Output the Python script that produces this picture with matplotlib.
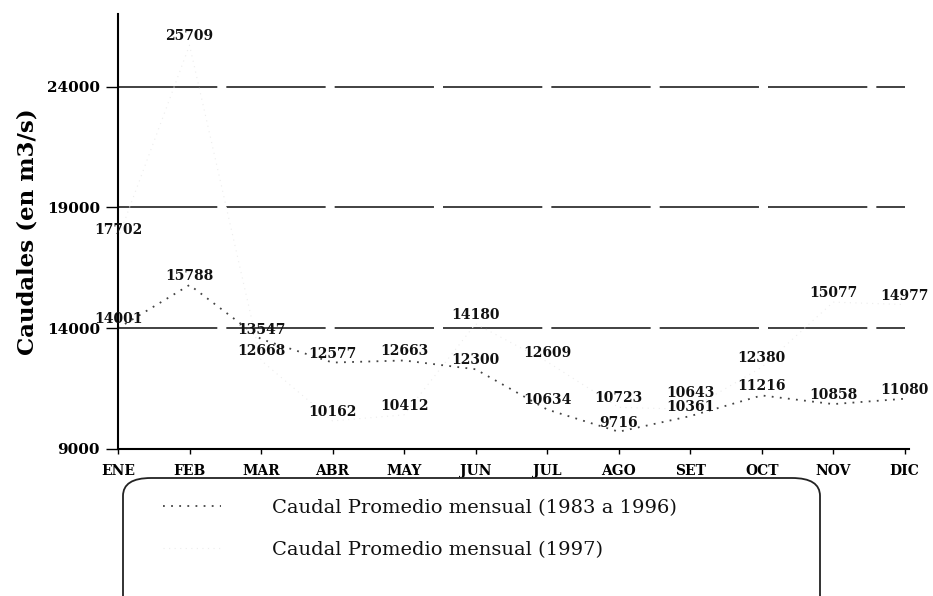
import matplotlib
matplotlib.use("Agg")
import matplotlib.pyplot as plt
from matplotlib.patches import FancyBboxPatch

meses = ["ENE", "FEB", "MAR", "ABR", "MAY", "JUN", "JUL", "AGO", "SET", "OCT", "NOV", "DIC"]
promedio_83_96 = [14001, 15788, 13547, 12577, 12663, 12300, 10634, 9716, 10361, 11216, 10858, 11080]
caudal_1997 = [17702, 25709, 12668, 10162, 10412, 14180, 12609, 10723, 10643, 12380, 15077, 14977]
y_ticks = [9000, 14000, 19000, 24000]
etiquetas = ["Caudal Promedio mensual (1983 a 1996)", "Caudal Promedio mensual (1997)"]

FONT = "DejaVu Serif"

fig = plt.figure(figsize=(9.33, 5.96), dpi=100)
ax = fig.add_axes([118 / 933, 147 / 596, 791 / 933, 435 / 596])

x = list(range(len(meses)))

# lineas horizontales de referencia
for v in y_ticks[1:]:
    ax.axhline(v, xmin=0, xmax=787 / 791, color="#333333", lw=1.3,
               linestyle=(0, (55, 5)), zorder=1)

l1, = ax.plot(x, promedio_83_96, color="#444444", lw=1.3,
              linestyle=(0, (1, 3.5)), zorder=2)
l2, = ax.plot(x, caudal_1997, color="#ececec", lw=0.8,
              linestyle=(0, (1, 4)), zorder=2)

# etiquetas de valores (SET 1997 un poco mas arriba para no tapar la otra)
for serie in (promedio_83_96, caudal_1997):
    for xi, v in zip(x, serie):
        dy = 6.5
        if serie is caudal_1997 and meses[xi] == "SET":
            dy = 12
        ax.annotate(str(v), (xi, v), xytext=(0, dy), textcoords="offset points",
                    ha="center", va="center", fontsize=10, fontweight="bold",
                    family=FONT, color="#111111", annotation_clip=False)

ax.set_xlim(0, 11.06)
ax.set_ylim(9000, 27000)
ax.set_xticks(x)
ax.set_xticklabels(meses, fontsize=10, fontweight="bold", family=FONT)
ax.set_yticks(y_ticks)
ax.set_yticklabels([str(v) for v in y_ticks], fontsize=11, fontweight="bold", family=FONT)
ax.tick_params(axis="x", direction="out", length=3.5, width=1, pad=7)
ax.tick_params(axis="y", direction="out", length=9, width=1, pad=4)

for s in ("top", "right"):
    ax.spines[s].set_visible(False)
ax.spines["left"].set_linewidth(1.5)
ax.spines["bottom"].set_linewidth(1.5)

ax.set_ylabel("Caudales (en m3/s)", fontsize=16.5, fontweight="bold", family=FONT,
              labelpad=6)

# recuadro de leyenda redondeado
caja = FancyBboxPatch((123 / 933, -20 / 596), 697 / 933, 138 / 596,
                      boxstyle="round,pad=0,rounding_size=0.03",
                      transform=fig.transFigure, facecolor="white",
                      edgecolor="#222222", lw=1.3, zorder=0)
fig.patches.append(caja)

leg = fig.legend([l1, l2], etiquetas, loc="upper left",
                 bbox_to_anchor=(153 / 933, 1 - 489 / 596),
                 frameon=False, borderpad=0, handlelength=3.0,
                 handletextpad=2.6, labelspacing=1.25,
                 prop={"family": FONT, "size": 14})
for t in leg.get_texts():
    t.set_color("#111111")

fig.savefig("out.png", dpi=100)
